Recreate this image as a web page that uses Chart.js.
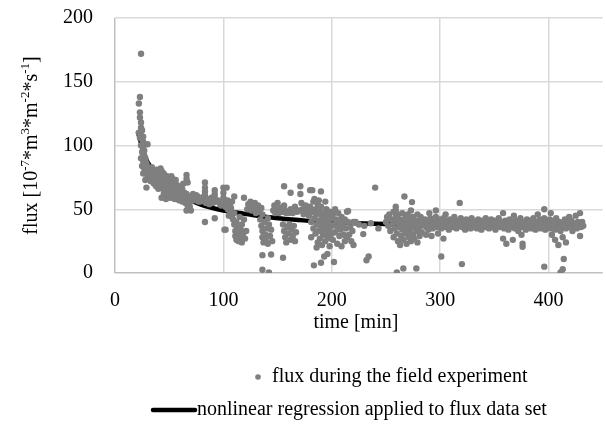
<!DOCTYPE html>
<html>
<head>
<meta charset="utf-8">
<script src="https://cdn.jsdelivr.net/npm/chart.js@4/dist/chart.umd.min.js"></script>
<style>
  html, body { margin: 0; padding: 0; background: #fff; }
  #app { display: block; }
</style>
</head>
<body>
<canvas id="app" width="606" height="439"></canvas>
<script>
// measured flux values [time (min), flux]
const fluxPoints = [
  [24,172],[23,138],[22,133],[23,126],[23,122],[24,118],[24,114],[25,112],[26,107],[24,108],[25,105],[26,103],[30,101],
  [25,100],[26,98],[27,96],[26,94],[27,92],[28,90],[28,88],[29,86],[27,85],[29,84],[30,83],[30,81],[29,79],[31,80],
  [22,110],[23,106],[24,100],[25,95],[24,90],[26,88],[27,82],[28,79],[25,84],[26,78],[29,67],[28,73],[30,76],[31,74],
  [31,78],[32,82],[32,75],[33,79],[33,72],[34,77],[34,83],[35,74],[35,80],[36,70],[36,76],[37,78],[37,73],[38,81],
  [38,68],[39,75],[39,71],[40,79],[40,74],[40,66],[41,72],[41,77],[42,69],[42,82],[43,75],[43,59],[44,71],[44,66],
  [45,78],[45,73],[46,68],[46,64],[47,74],[47,58],[48,70],[48,76],[49,66],[49,62],[50,72],[50,68],[51,59],[51,64],
  [43,80],[45,62],[52,70],[52,66],[53,74],[53,61],[54,68],[54,63],[55,71],[55,58],[56,65],[56,67],[57,62],[57,69],
  [58,60],[58,64],[59,66],[59,57],[60,62],[60,68],[52,76],[56,73],[61,59],[61,64],[62,66],[62,56],[63,61],[63,70],
  [64,58],[64,63],[65,60],[65,55],[66,77],[66,74],[66,62],[67,71],[67,57],[68,59],[68,54],[69,60],[69,52],[70,56],
  [70,49],[66,49],[67,53],
  [71,59],[72,58],[72,62],[73,59],[74,57],[75,61],[76,60],[77,56],[78,58],[79,56],[80,59],[81,57],[82,60],
  [83,71],[83,67],[83,64],[83,61],[83,57],[83,40],[84,55],[85,58],[86,57],[87,54],[88,56],[89,59],[90,55],
  [92,65],[92,62],[92,59],[92,56],[92,43],[93,56],[95,57],[97,54],[98,53],[100,67],[100,63],[100,59],[100,55],
  [101,34],[102,52],
  [103,53],[104,57],[104,50],[105,45],[106,54],[106,48],[107,51],[108,44],[108,56],[103,67],[102,34],[110,60],[110,47],
  [109,42],[110,38],[111,33],[111,29],[112,26],[112,40],[113,36],[114,31],[114,25],[115,44],[115,28],[116,34],[117,38],
  [117,24],[118,30],[119,42],[120,27],[121,33],[119,59],
  [122,50],[123,54],[124,52],[125,56],[126,49],[127,53],[128,51],[129,55],[130,47],[131,50],[132,53],[133,48],[135,51],
  [136,46],[134,42],[135,37],[136,33],[136,28],[137,24],[138,40],[139,30],[139,26],[140,35],[141,43],[141,23],[142,38],
  [143,29],[144,34],[145,25],[136,14],[144,14.5],[136,2.5],[142,0.5],
  [146,49],[147,53],[148,47],[149,50],[150,55],[151,47],[152,48],[153,51],[154,50],[155,48],[156,53],[157,49],[158,47],
  [156,68],[162,63],[171,68],[171,62],[155,38],[156,33],[157,28],[158,24],[159,36],[160,31],[161,38],[162,26],[163,34],
  [164,29],[165,37],[166,25],[167,32],[155,12],
  [160,47],[162,50],[164,47],[166,52],[168,48],[170,49],[172,55],[173,50],[174,46],[175,48],[176,53],[177,48],[178,50],
  [180,65],[182,65],[190,64],[194,56],
  [179,45],[180,52],[181,28],[181,40],[182,48],[183,35],[183,56],[184,43],[185,31],[185,50],[186,38],[186,46],[187,24],
  [187,54],[188,41],[188,33],[189,48],[189,27],[190,36],[190,52],[191,44],[191,22],[192,39],[192,30],[193,47],[193,34],
  [194,42],[194,25],[195,50],[195,37],[196,29],[196,45],[197,33],[197,40],[198,21],[198,48],[199,36],[199,27],[200,43],
  [200,31],[184,58],[188,57],[183.5,6],[190,8],[193,13],[202,8.6],[196,15],[186,20],
  [201,46],[201,26],[202,38],[203,50],[203,32],[204,42],[205,23],[205,36],[206,47],[207,29],[207,40],[208,34],[209,44],
  [209,21],[210,38],[211,30],[212,42],[212,25],[213,35],[214,48],[214,28],[215,40],
  [215,48.6],[216,30],[217,36],[218,25],[219,33],[220,22],[220,40],[222,40],[229,30.5],[234,13],[232,10],[240,67],
  [243,35],[225,38],[230,37],[236,39],
  [250,40],[251,44],[252,37],[253,46],[254,33],[255,42],[256,38],[257,48],[257,28],[258,35],[259,49],[259,44],[260,31],
  [260,40],[261,25],[261,46],[262,36],[263,42],[263,22],[264,29],[264,38],[265,47],[265,34],[266,41],[266,26],[267,60],
  [267,37],[268,44],[268,31],[269,39],[269,23],[270,35],[270,46],[271,28],[271,42],[272,37],[272,33],[273,49],[273,25],
  [274,55.6],[274,40],[275,30],[275,44],[276,36],[276,27],[277,41],[278,33],[278,38],[279,46],[279,24],[280,35],[280,41],
  [281,29],[282,37],[282,44],[283,32],[284,39],[260,0.5],[266,3.6],[278,3.6],[259,52],
  [285,38],[286,42],[287,36],[288,40],[289,34],[290,39],[291,43],[292,37],[293,35],[294,41],[295,38],[296,44],[297,36],
  [298,39],[299,42],[300,37],[301,35],[302,40],[303,43],[304,38],[305,36],[306,41],[307,39],[308,34],[309,42],[310,37],
  [311,40],[312,36],[313,44],[314,38],[315,35],[316,41],[317,39],[318,37],[319,43],[320,36],[321,40],[322,38],[323,34],
  [324,42],[325,39],[326,37],[327,41],[328,35],[329,43],[330,38],
  [290,47],[296,49],[305,46],[298,31],[292,29],[303,27],[287,30],[301,13],[318,55],[320,7],
  [331,36],[332,40],[333,38],[334,35],[335,42],[336,37],[337,39],[338,34],[339,41],[340,38],[341,36],[342,43],[343,37],
  [344,40],[345,35],[346,39],[347,42],[348,36],[349,38],[350,41],[351,34],[352,39],[353,37],[354,43],[355,36],[356,40],
  [357,38],[358,47],[358,27],[359,35],[360,41],[361,23],[361,37],[362,39],[363,34],[364,42],[365,36],[366,40],[367,26],
  [367,38],[368,45],[369,35],[370,41],[371,37],[372,33],[373,39],[374,43],[375,30],[375,36],[376,20.5],[376,23],[377,40],
  [378,37],[379,34],[380,42],[381,38],[382,36],[383,41],[384,35],[385,39],[386,43],[387,37],[388,34],[389,40],[390,46],
  [390,38],[391,36],[392,42],[393,35],[394,39],[395,37],[396,50],[396,5],[396,43],[397,34],[398,40],[399,38],[400,36],
  [401,42],[402,47],[402,35],[403,30],[403,39],[404,37],[405,41],[406,26],[406,34],[407,43],[408,38],[409,22],[409,36],
  [410,40],[411,0.5],[411,33],[412,39],[413,3],[413,28],[414,11],[414,37],[415,42],[416,24],[416,35],[417,40],[418,38],
  [419,44],[420,36],[421,41],[422,33],[423,39],[424,37],[425,45],[426,35],[427,40],[428,38],[429,47],[429,29],[430,36],
  [431,40],[432,37]
]

// nonlinear regression curve
const fitPoints = [
  [21,111],[22,108],[24,102],[26,96],[28,91],[30,87],[33,83],[36,79],[40,75],[45,71],[50,67],[55,64],[60,61],
  [70,57],[80,53.5],[90,51],[100,49],[115,47],[130,45],[140,44],[155,42.5],[170,41.5],[190,40.3],[215,39.3],
  [230,38.9],[250,38.5],[267,38.2],[270,37.2],[273,36.8],[279,36.8],[282,37.6],[285,38],[300,37.6],[330,37.2],
  [360,36.9],[390,36.6],[410,36.4],[431,36.2]
]

const xTicks = [0, 100, 200, 300, 400]
const yTicks = [0, 50, 100, 150, 200]

const xTitle = 'time [min]'
const yTitleParts = [['flux [10', 0], ['-7', 1], ['*m', 0], ['3', 1], ['*m', 0], ['-2', 1], ['*s', 0], ['-1', 1], [']', 0]]
const legendLabels = ['flux during the field experiment', 'nonlinear regression applied to flux data set']

const FONT = '"Liberation Serif", "Times New Roman", serif'
const GREY = '#7f7f7f'

function toXY(pairs){
  return pairs.map(p => ({ x: p[0], y: p[1] }))
}

// titles and legend drawn by hand, to get the superscripts and the Excel-like legend
const textPlugin = {
  id: 'texts',
  afterDraw(chart){
    const ctx = chart.ctx
    const area = chart.chartArea
    ctx.save()
    ctx.fillStyle = '#000'

    // x title
    ctx.font = '20px ' + FONT
    ctx.textAlign = 'center'
    ctx.textBaseline = 'middle'
    ctx.fillText(xTitle, (area.left + area.right) / 2 - 3, 323)

    // y title with superscripts
    const mainFont = '20px ' + FONT
    const supFont = '13px ' + FONT
    let total = 0
    yTitleParts.forEach(([t, sup]) => {
      ctx.font = sup ? supFont : mainFont
      total += ctx.measureText(t).width
    })
    ctx.translate(37, (area.top + area.bottom) / 2)
    ctx.rotate(-Math.PI / 2)
    ctx.textAlign = 'left'
    ctx.textBaseline = 'alphabetic'
    let pos = -total / 2
    yTitleParts.forEach(([t, sup]) => {
      ctx.font = sup ? supFont : mainFont
      ctx.fillText(t, pos, sup ? -8 : 0)
      pos += ctx.measureText(t).width
    })
    ctx.setTransform(1, 0, 0, 1, 0, 0)

    // legend
    ctx.font = '20px ' + FONT
    ctx.textAlign = 'left'
    ctx.textBaseline = 'middle'
    ctx.fillStyle = GREY
    ctx.beginPath()
    ctx.arc(258, 377, 2.8, 0, Math.PI * 2)
    ctx.fill()
    ctx.fillStyle = '#000'
    ctx.fillText(legendLabels[0], 272, 377)

    ctx.strokeStyle = '#000'
    ctx.lineWidth = 4.5
    ctx.lineCap = 'round'
    ctx.beginPath()
    ctx.moveTo(153, 410)
    ctx.lineTo(195, 410)
    ctx.stroke()
    ctx.fillText(legendLabels[1], 197, 410)
    ctx.restore()
  }
}

new Chart(document.getElementById('app'), {
  type: 'scatter',
  data: {
    datasets: [
      {
        label: legendLabels[0],
        data: toXY(fluxPoints),
        backgroundColor: GREY,
        borderWidth: 0,
        pointRadius: 3.2,
        pointHoverRadius: 3.2
      },
      {
        label: legendLabels[1],
        data: toXY(fitPoints),
        showLine: true,
        borderColor: '#000',
        borderWidth: 4.5,
        pointRadius: 0,
        tension: 0.3
      }
    ]
  },
  options: {
    responsive: false,
    animation: false,
    devicePixelRatio: 1,
    layout: { padding: { top: 18, right: 1, left: 0, bottom: 0 } },
    plugins: {
      legend: { display: false },
      tooltip: { enabled: false }
    },
    scales: {
      x: {
        type: 'linear',
        min: 0,
        max: 450,
        afterBuildTicks: s => { s.ticks = xTicks.map(v => ({ value: v })) },
        afterFit: s => { s.height = 166; s.paddingLeft = 0; s.paddingRight = 0 },
        border: { display: false },
        grid: {
          drawTicks: false,
          lineWidth: 1.5,
          color: c => c.tick && c.tick.value === 0 ? '#bfbfbf' : '#d9d9d9'
        },
        ticks: {
          padding: 16,
          color: '#000',
          font: { family: FONT, size: 20 }
        }
      },
      y: {
        min: 0,
        max: 200,
        afterBuildTicks: s => { s.ticks = yTicks.map(v => ({ value: v })) },
        afterFit: s => { s.width = 115; s.paddingTop = 0; s.paddingBottom = 0 },
        border: { display: false },
        grid: {
          drawTicks: false,
          lineWidth: 1.5,
          color: c => c.tick && c.tick.value === 0 ? '#bfbfbf' : '#d9d9d9'
        },
        ticks: {
          padding: 22,
          color: '#000',
          font: { family: FONT, size: 20 }
        }
      }
    }
  },
  plugins: [textPlugin]
})
</script>
</body>
</html>
